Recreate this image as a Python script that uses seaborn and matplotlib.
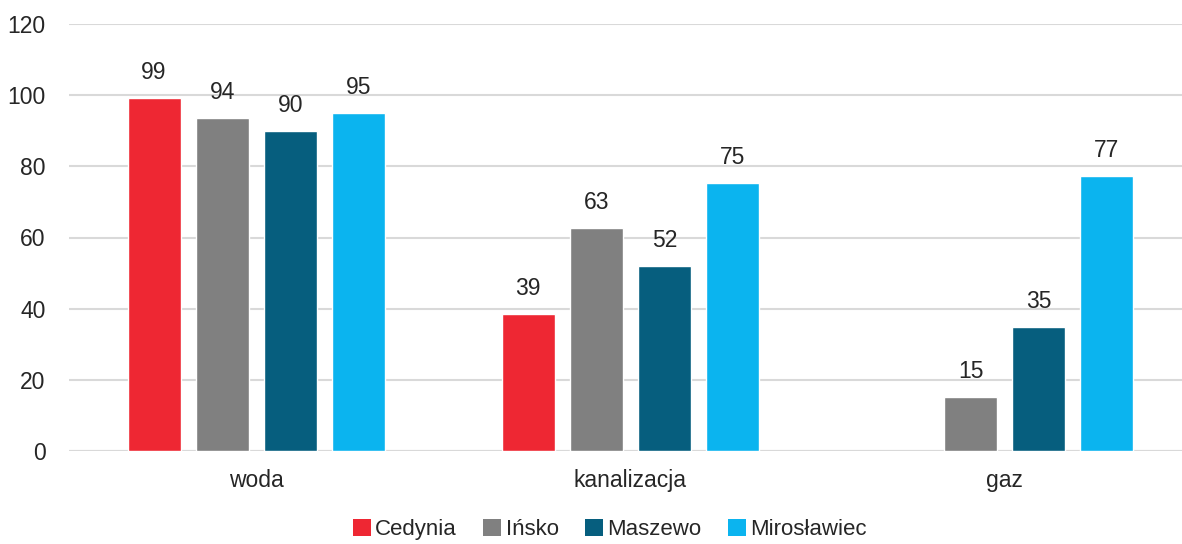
import numpy as np
import pandas as pd
import seaborn as sns
import matplotlib.pyplot as plt
from matplotlib.patches import Patch

sns.set_theme(style='white')
plt.rcParams['font.family'] = ['Liberation Sans', 'DejaVu Sans']

categories = ['woda', 'kanalizacja', 'gaz']
gminy = ['Cedynia', 'Ińsko', 'Maszewo', 'Mirosławiec']
cedynia = [99.2, 38.6, np.nan]
insko = [93.6, 62.7, 15.2]
maszewo = [89.9, 52.0, 34.9]
miroslawiec = [95.1, 75.3, 77.3]
colors = ['#EE2733', '#808080', '#065E7E', '#0BB4EF']


def build_df():
    rows = []
    for gmina, vals in zip(gminy, [cedynia, insko, maszewo, miroslawiec]):
        for cat, v in zip(categories, vals):
            rows.append({'kategoria': cat, 'gmina': gmina, 'wartosc': v})
    return pd.DataFrame(rows)


df = build_df()
fs = 16.5
txt = '#262626'

fig = plt.figure(figsize=(11.82, 5.44), dpi=100)
ax = fig.add_axes([69 / 1182, (544 - 451) / 544, 1 - 69 / 1182, (451 - 24) / 544])

sns.barplot(data=df, x='kategoria', y='wartosc', hue='gmina',
            order=categories, hue_order=gminy, palette=colors,
            errorbar=None, width=0.727, gap=0.22, saturation=1,
            legend=False, ax=ax)

for cont in ax.containers:
    ax.bar_label(cont, fmt='{:.0f}', padding=10, fontsize=fs, color=txt)

ax.set_ylim(0, 120)
ax.set_xlim(-0.5, 2.474)
ax.set_yticks(range(0, 121, 20))
ax.yaxis.grid(True, color='#d9d9d9', linewidth=1.5)
ax.set_axisbelow(True)
ax.axhline(0, color='#d9d9d9', linewidth=1.5, zorder=0)
for s in ax.spines.values():
    s.set_visible(False)
ax.tick_params(axis='y', length=0, pad=17, labelsize=fs, labelcolor=txt)
ax.tick_params(axis='x', length=0, pad=13, labelsize=fs, labelcolor=txt)
ax.set_xlabel('')
ax.set_ylabel('')

handles = [Patch(facecolor=c, edgecolor='none', label=g) for c, g in zip(colors, gminy)]
fig.legend(handles=handles, loc='lower center', bbox_to_anchor=(610 / 1182, -0.018),
           ncol=4, frameon=False, fontsize=16, handlelength=0.8, handleheight=0.8,
           handletextpad=0.2, columnspacing=1.2, labelcolor=txt,
           borderpad=0.1)

fig.savefig('out.png', dpi=100)
